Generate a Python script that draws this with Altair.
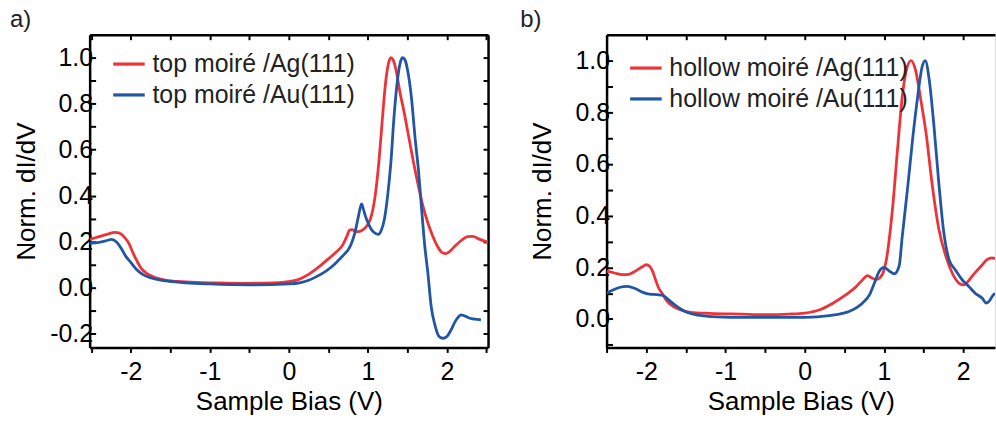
import altair as alt
import pandas as pd

FONT = "Liberation Sans"
RED = "#EE3338"
BLUE = "#2155A5"

# ---------------- panel a: top moiré ----------------
a_labels = ["top moiré /Ag(111)", "top moiré /Au(111)"]
a_ag_x = [-2.52, -2.40, -2.30, -2.20, -2.15, -2.08, -2.02, -1.97, -1.92, -1.87, -1.80, -1.70, -1.55,
          -1.35, -1.10, -0.80, -0.50, -0.20, 0.00, 0.12, 0.25, 0.38, 0.50, 0.60, 0.68, 0.73, 0.77,
          0.80, 0.85, 0.90, 0.95, 1.00, 1.05, 1.10, 1.14, 1.18, 1.22, 1.26, 1.29, 1.32, 1.36, 1.40,
          1.46, 1.52, 1.58, 1.64, 1.70, 1.76, 1.82, 1.88, 1.93, 1.98, 2.03, 2.10, 2.18, 2.26, 2.33,
          2.40, 2.52]
a_ag_y = [0.210, 0.222, 0.232, 0.240, 0.238, 0.220, 0.190, 0.150, 0.115, 0.085, 0.062, 0.045, 0.032,
          0.026, 0.022, 0.020, 0.019, 0.021, 0.026, 0.035, 0.058, 0.090, 0.125, 0.155, 0.185, 0.220, 0.250,
          0.252, 0.243, 0.245, 0.255, 0.275, 0.320, 0.420, 0.550, 0.720, 0.880, 0.975, 1.000, 0.990, 0.940, 0.860,
          0.760, 0.650, 0.540, 0.440, 0.350, 0.280, 0.225, 0.180, 0.155, 0.148, 0.156, 0.180, 0.205, 0.222, 0.223,
          0.212, 0.198]
a_au_x = [-2.52, -2.40, -2.30, -2.24, -2.18, -2.12, -2.06, -2.00, -1.93, -1.85, -1.75, -1.55, -1.30,
          -1.00, -0.50, 0.00, 0.15, 0.25, 0.35, 0.46, 0.55, 0.63, 0.70, 0.76, 0.80, 0.84, 0.88, 0.905,
          0.92, 0.94, 0.97, 1.01, 1.05, 1.09, 1.13, 1.17, 1.21, 1.25, 1.29, 1.33, 1.37, 1.41, 1.44,
          1.47, 1.50, 1.55, 1.60, 1.64, 1.68, 1.72, 1.76, 1.80, 1.85, 1.90, 1.95, 2.00, 2.05, 2.10,
          2.15, 2.18, 2.22, 2.28, 2.35, 2.43]
a_au_y = [0.193, 0.197, 0.205, 0.210, 0.198, 0.170, 0.135, 0.110, 0.080, 0.058, 0.043, 0.029, 0.021,
          0.016, 0.012, 0.016, 0.022, 0.032, 0.048, 0.070, 0.093, 0.120, 0.145, 0.170, 0.200, 0.245, 0.310, 0.350,
          0.364, 0.345, 0.310, 0.275, 0.250, 0.237, 0.232, 0.250, 0.300, 0.400, 0.540, 0.740, 0.890, 0.980, 1.000,
          0.990, 0.950, 0.830, 0.640, 0.510, 0.340, 0.180, 0.060, -0.080, -0.165, -0.212, -0.220, -0.212, -0.185, -0.150,
          -0.125, -0.118, -0.122, -0.132, -0.137, -0.140]

# ---------------- panel b: hollow moiré ----------------
b_labels = ["hollow moiré /Ag(111)", "hollow moiré /Au(111)"]
b_ag_x = [-2.50, -2.40, -2.30, -2.22, -2.14, -2.06, -2.00, -1.96, -1.92, -1.88, -1.84, -1.80, -1.74,
          -1.64, -1.55, -1.44, -1.20, -0.80, -0.50, -0.20, 0.00, 0.19, 0.36, 0.52, 0.65, 0.73, 0.79,
          0.84, 0.90, 0.95, 0.99, 1.03, 1.07, 1.11, 1.17, 1.23, 1.28, 1.34, 1.40, 1.46, 1.53, 1.61,
          1.69, 1.78, 1.86, 1.94, 2.00, 2.05, 2.11, 2.18, 2.24, 2.30, 2.36, 2.40]
b_ag_y = [0.185, 0.178, 0.172, 0.173, 0.185, 0.200, 0.210, 0.205, 0.185, 0.150, 0.118, 0.100, 0.070,
          0.045, 0.034, 0.026, 0.022, 0.019, 0.017, 0.019, 0.023, 0.036, 0.062, 0.094, 0.126, 0.152, 0.168,
          0.160, 0.152, 0.160, 0.180, 0.230, 0.320, 0.436, 0.655, 0.860, 0.960, 1.000, 0.960, 0.855, 0.720, 0.514,
          0.350, 0.243, 0.178, 0.140, 0.132, 0.142, 0.165, 0.190, 0.210, 0.230, 0.236, 0.235]
b_au_x = [-2.50, -2.42, -2.34, -2.24, -2.14, -2.04, -1.96, -1.86, -1.78, -1.72, -1.64, -1.56, -1.48,
          -1.35, -1.10, -0.80, -0.50, -0.20, 0.00, 0.31, 0.565, 0.73, 0.82, 0.88, 0.94, 1.00, 1.07,
          1.13, 1.19, 1.23, 1.30, 1.36, 1.42, 1.48, 1.52, 1.57, 1.63, 1.69, 1.75, 1.82, 1.90, 1.99,
          2.07, 2.15, 2.24, 2.29, 2.33, 2.37, 2.40]
b_au_y = [0.100, 0.112, 0.122, 0.126, 0.118, 0.103, 0.096, 0.094, 0.090, 0.075, 0.055, 0.038, 0.025,
          0.015, 0.008, 0.006, 0.006, 0.006, 0.006, 0.013, 0.030, 0.062, 0.095, 0.140, 0.185, 0.200, 0.185,
          0.175, 0.204, 0.320, 0.514, 0.694, 0.850, 0.975, 1.000, 0.926, 0.746, 0.530, 0.345, 0.230, 0.190, 0.150,
          0.126, 0.100, 0.080, 0.062, 0.070, 0.090, 0.100]

x_ticks = [-2.5, -2.0, -1.5, -1.0, -0.5, 0.0, 0.5, 1.0, 1.5, 2.0, 2.5]
a_y_ticks = [-0.2, -0.1, 0.0, 0.1, 0.2, 0.3, 0.4, 0.5, 0.6, 0.7, 0.8, 0.9, 1.0]
b_y_ticks = [-0.1, 0.0, 0.1, 0.2, 0.3, 0.4, 0.5, 0.6, 0.7, 0.8, 0.9, 1.0]

X_LABEL = ("datum.value % 1 == 0 ? (datum.value < 0 ? '-' + format(-datum.value, 'd') "
           ": format(datum.value, 'd')) : ''")
Y_LABEL = ("abs(round(datum.value * 10)) % 2 == 0 ? (datum.value < -0.001 ? '-' + format(-datum.value, '.1f') "
           ": format(abs(datum.value), '.1f')) : ''")


def make_df(labels, ag_x, ag_y, au_x, au_y):
    rows = []
    for i, (x, y) in enumerate(zip(ag_x, ag_y)):
        rows.append({"bias": x, "didv": y, "series": labels[0], "idx": i})
    for i, (x, y) in enumerate(zip(au_x, au_y)):
        rows.append({"bias": x, "didv": y, "series": labels[1], "idx": i})
    return pd.DataFrame(rows)


def panel(df, labels, xdom, ydom, yticks, width, height, title, legend_xy, title_pad, title_dx, right_axis):
    xs = alt.Scale(domain=xdom, nice=False, zero=False)
    ys = alt.Scale(domain=ydom, nice=False, zero=False)
    legend = alt.Legend(orient="none", legendX=legend_xy[0], legendY=legend_xy[1], title=None,
                        symbolType="stroke", symbolSize=1000, symbolStrokeWidth=3.2,
                        labelFontSize=25, labelFont=FONT, labelColor="#222222",
                        padding=0, rowPadding=-8, labelOffset=6, labelLimit=400)
    base = alt.Chart(df)
    lines = base.mark_line(strokeWidth=2.8, interpolate="monotone", clip=True).encode(
        x=alt.X("bias:Q", scale=xs,
                axis=alt.Axis(orient="bottom", values=x_ticks, labelExpr=X_LABEL, title="Sample Bias (V)",
                              tickSize=5, tickWidth=2, tickColor="black", domainColor="black",
                              domainWidth=2.5, labelPadding=7, labelFontSize=25, labelColor="black",
                              titleFontSize=26, titleFontWeight="normal", titleColor="black",
                              titlePadding=4, grid=False, labelFont=FONT, titleFont=FONT)),
        y=alt.Y("didv:Q", scale=ys,
                axis=alt.Axis(orient="left", values=yticks, labelExpr=Y_LABEL, title="Norm. dI/dV",
                              tickSize=alt.ExprRef(expr="-6"), tickWidth=2, tickColor="black",
                              domainColor="black", domainWidth=2.5, labelPadding=3,
                              labelFontSize=25, labelColor="black", titleFontSize=26,
                              titleFontWeight="normal", titleColor="black", titlePadding=title_pad,
                              grid=False, labelFont=FONT, titleFont=FONT)),
        color=alt.Color("series:N", scale=alt.Scale(domain=labels, range=[RED, BLUE]), legend=legend),
        order="idx:Q",
    )
    if right_axis:
        yaxis2 = alt.Axis(orient="right", values=yticks, labels=False, title=None,
                          tickSize=alt.ExprRef(expr="-5"), tickWidth=2, tickColor="black",
                          domainColor="black", domainWidth=2.5, grid=False)
    else:
        yaxis2 = None
    frame = base.mark_line(strokeOpacity=0, clip=True).encode(
        x=alt.X("bias:Q", scale=xs,
                axis=alt.Axis(orient="top", values=x_ticks, labels=False, title=None,
                              tickSize=alt.ExprRef(expr="-5"), tickWidth=2, tickColor="black",
                              domainColor="black", domainWidth=2.5, grid=False)),
        y=alt.Y("didv:Q", scale=ys, axis=yaxis2),
        detail="series:N",
        order="idx:Q",
    )
    return alt.layer(lines, frame).resolve_axis(x="independent", y="independent").properties(
        width=width, height=height,
        title=alt.TitleParams(title, anchor="start", frame="bounds", fontSize=24, font=FONT,
                              fontWeight="normal", color="#222222", offset=2, dx=title_dx),
    )


df_a = make_df(a_labels, a_ag_x, a_ag_y, a_au_x, a_au_y)
df_b = make_df(b_labels, b_ag_x, b_ag_y, b_au_x, b_au_y)

pa = panel(df_a, a_labels, [-2.52, 2.52], [-0.26, 1.1], a_y_ticks, 400, 314, "a)", (22, 12), 10, -4, True)
pb = panel(df_b, b_labels, [-2.5, 2.4], [-0.11, 1.1], b_y_ticks, 390, 314, "b)", (22, 16), 20, -9, False)

chart = alt.hconcat(pa, pb, spacing=29).resolve_scale(color="independent").resolve_legend(
    color="independent"
).properties(
    padding={"left": 9, "top": 6, "right": 0, "bottom": 0},
    background="white",
).configure_view(strokeWidth=0).configure(font=FONT)

chart.save("out.html", embed_options={"renderer": "svg", "actions": False})
